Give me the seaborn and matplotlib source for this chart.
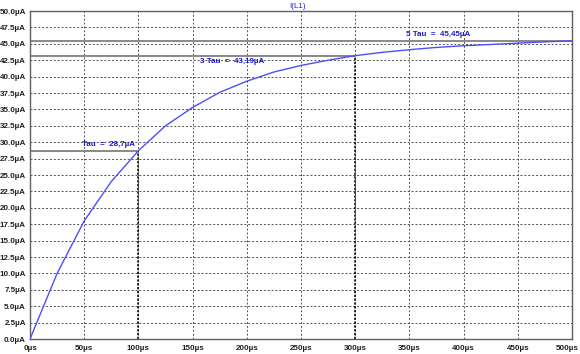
"""
Corrente no indutor I(L1) - resposta RL com marcas de Tau, 3 Tau e 5 Tau
"""

import pandas as pd
import matplotlib
matplotlib.use('Agg')
import matplotlib.pyplot as plt
import matplotlib.transforms as mtransforms
import seaborn as sns

# Dados
tempo_us = [0, 25, 50, 75, 100, 125, 150, 175, 200, 225, 250, 275,
            300, 325, 350, 375, 400, 425, 450, 475, 500]
corrente_ua = [0.0, 10.0, 18.0, 24.0, 28.7, 32.5, 35.3, 37.6, 39.3, 40.7, 41.7, 42.5,
               43.19, 43.7, 44.1, 44.45, 44.7, 44.9, 45.1, 45.3, 45.45]

marcas_t = [100, 300, 500]
marcas_i = [28.7, 43.19, 45.45]
marcas_txt = ['Tau  =  28,7µA', '3 Tau  =  43,19µA', '5 Tau  =  45,45µA']

x_ticks = list(range(0, 501, 50))
y_ticks = [i * 2.5 for i in range(21)]

df = pd.DataFrame({'t': tempo_us, 'i': corrente_ua})

sns.set_style('white')
plt.rcParams['font.family'] = ['Liberation Sans', 'DejaVu Sans']

fig = plt.figure(figsize=(5.8, 3.54), dpi=100)
ax = fig.add_axes([30 / 580, 15 / 354, 542 / 580, 328 / 354])

# linhas horizontais e verticais das marcas
ax.axhline(marcas_i[2], color='#808080', lw=1.3, zorder=2)
ax.hlines(marcas_i[0], 0, marcas_t[0], color='#808080', lw=1.3, zorder=2)
ax.hlines(marcas_i[1], 0, marcas_t[1], color='#808080', lw=1.3, zorder=2)
ax.vlines(marcas_t[0], 0, marcas_i[0], color='black', lw=1.1, ls=(0, (1.5, 1)), zorder=2)
ax.vlines(marcas_t[1], 0, marcas_i[1], color='black', lw=1.1, ls=(0, (1.5, 1)), zorder=2)

sns.lineplot(data=df, x='t', y='i', ax=ax, color='#4d4dff', lw=1.0, zorder=3)

ax.text(48, marcas_i[0] + 0.4, marcas_txt[0], color='#1a1acc', fontsize=5.8,
        fontweight='bold', va='bottom')
ax.text(157, marcas_i[1] - 0.4, marcas_txt[1], color='#1a1acc', fontsize=5.8,
        fontweight='bold', va='top')
ax.text(347, marcas_i[2] + 0.4, marcas_txt[2], color='#1a1acc', fontsize=5.8,
        fontweight='bold', va='bottom')

ax.set_xlim(0, 500)
ax.set_ylim(0, 50)
ax.set_xticks(x_ticks)
ax.set_yticks(y_ticks)
ax.set_xticklabels([f'{v}µs' for v in x_ticks])
ax.set_yticklabels([f'{v:.1f}µA' for v in y_ticks])
ax.tick_params(axis='both', labelsize=5.8, length=2.5, width=0.8, color='#404040',
               labelcolor='#202020', pad=0.5, direction='out')
ax.tick_params(axis='x', pad=2)
for lbl in ax.get_xticklabels() + ax.get_yticklabels():
    lbl.set_fontweight('bold')
# último rótulo encostado na borda direita, como no original
ultimo = ax.get_xticklabels()[-1]
ultimo.set_horizontalalignment('right')
ultimo.set_transform(ultimo.get_transform() +
                     mtransforms.ScaledTranslation(7 / 100, 0, fig.dpi_scale_trans))
ax.grid(True, color='#505050', ls=(0, (2, 2)), lw=0.7)
for s in ax.spines.values():
    s.set_color('#606060')
    s.set_linewidth(1.0)
ax.set_xlabel('')
ax.set_ylabel('')
fig.text(298 / 580, 1 - 6 / 354, 'I(L1)', color='#1a1acc', fontsize=5.8,
         ha='center', va='center')

fig.savefig('out.png', dpi=100, facecolor='white')
